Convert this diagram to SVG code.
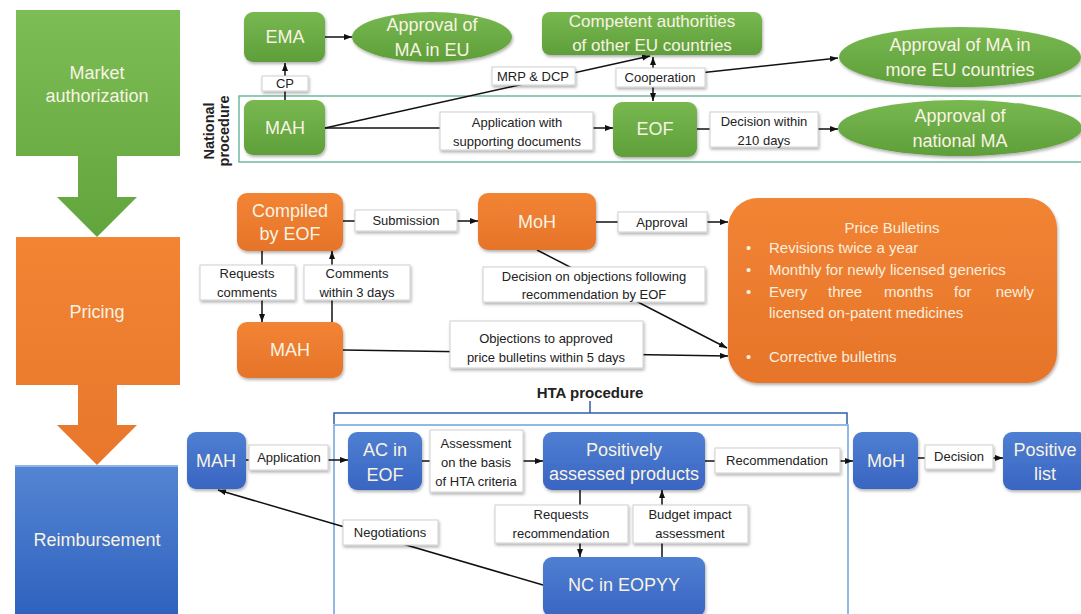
<svg xmlns="http://www.w3.org/2000/svg" width="1081" height="614" viewBox="0 0 1081 614">
<defs>
<linearGradient id="gG" x1="0" y1="0" x2="0" y2="1"><stop offset="0" stop-color="#7dbd55"/><stop offset="1" stop-color="#62a53c"/></linearGradient>
<linearGradient id="gO" x1="0" y1="0" x2="0" y2="1"><stop offset="0" stop-color="#f28434"/><stop offset="1" stop-color="#e8772b"/></linearGradient>
<linearGradient id="gB" x1="0" y1="0" x2="0" y2="1"><stop offset="0" stop-color="#5485d3"/><stop offset="1" stop-color="#2f62bf"/></linearGradient>
<linearGradient id="nG" x1="0" y1="0" x2="0" y2="1"><stop offset="0" stop-color="#78b850"/><stop offset="1" stop-color="#5f9f3a"/></linearGradient>
<linearGradient id="nO" x1="0" y1="0" x2="0" y2="1"><stop offset="0" stop-color="#f28434"/><stop offset="1" stop-color="#e6742a"/></linearGradient>
<linearGradient id="nB" x1="0" y1="0" x2="0" y2="1"><stop offset="0" stop-color="#4f7fd2"/><stop offset="1" stop-color="#3965c2"/></linearGradient>
<filter id="sh" x="-10%" y="-10%" width="130%" height="140%"><feDropShadow dx="1" dy="2" stdDeviation="1.5" flood-color="#000" flood-opacity="0.3"/></filter>
<marker id="ar" markerUnits="userSpaceOnUse" markerWidth="8" markerHeight="6" refX="8" refY="3" orient="auto-start-reverse"><path d="M0,0 L8,3 L0,6 z" fill="#111"/></marker>
<style>
.t{font-family:"Liberation Sans",Arial,sans-serif;fill:#f8f3e3;text-anchor:middle}
.big{font-size:18px}
.lab{font-family:"Liberation Sans",Arial,sans-serif;font-size:13px;fill:#222;text-anchor:middle}
.lb{fill:#fff;stroke:#cfcfcf;stroke-width:1;filter:url(#sh)}
.ln{stroke:#111;stroke-width:1.5;fill:none}
.a{marker-end:url(#ar)}
.ng{fill:url(#nG);filter:url(#sh)}
.no{fill:url(#nO);filter:url(#sh)}
.nb{fill:url(#nB);filter:url(#sh)}
.pb{font-family:"Liberation Sans",Arial,sans-serif;font-size:15px;fill:#f8eedd}
.vt{font-family:"Liberation Sans",Arial,sans-serif;font-size:14.5px;font-weight:bold;fill:#222;text-anchor:middle}
</style>
</defs>
<rect width="1081" height="614" fill="#fff"/>

<g id="stage-market">
<path d="M16,10 H180 V156 H117 V197 H137 L97,237 L57,197 H78 V156 H16 Z" fill="url(#gG)"/>
<text class="t big" x="97" y="79">Market</text>
<text class="t big" x="97" y="102">authorization</text>
</g>
<g id="stage-pricing">
<path d="M16,237 H180 V385 H117 V425 H137 L97,465 L57,425 H78 V385 H16 Z" fill="url(#gO)"/>
<text class="t big" x="97" y="318">Pricing</text>
</g>
<g id="stage-reimbursement">
<rect x="15" y="465" width="163" height="149" fill="url(#gB)"/>
<line x1="15" y1="466" x2="178" y2="466" stroke="#8fb0e8" stroke-width="2"/>
<text class="t big" x="97" y="546">Reimbursement</text>
</g>

<g id="national-procedure">
<rect x="239" y="96" width="850" height="66" fill="none" stroke="#6fb8a0" stroke-width="1.5"/>
<text class="vt" transform="translate(214,131) rotate(-90)">National</text>
<text class="vt" transform="translate(229,131) rotate(-90)">procedure</text>
</g>

<g id="hta-procedure">
<path d="M334,614 V425 H848 V614" fill="none" stroke="#6fa3d8" stroke-width="1.5"/>
<path d="M334,424 V413 H847 V424 M590,413 V401" fill="none" stroke="#2f5fa8" stroke-width="1.5"/>
<text x="590" y="398" font-family="Liberation Sans,Arial,sans-serif" font-size="15" font-weight="bold" fill="#222" text-anchor="middle">HTA procedure</text>
</g>

<g id="connectors">
<line class="ln a" x1="325" y1="37" x2="352" y2="37"/>
<line class="ln a" x1="285" y1="100" x2="285" y2="63"/>
<line class="ln a" x1="325" y1="128" x2="650" y2="56"/>
<line class="ln a" x1="653" y1="57" x2="653" y2="101" style="marker-start:url(#ar)"/>
<line class="ln a" x1="653" y1="78" x2="838" y2="58"/>
<line class="ln a" x1="325" y1="128" x2="613" y2="128"/>
<line class="ln a" x1="697" y1="129" x2="838" y2="129"/>
<line class="ln a" x1="343" y1="221" x2="478" y2="221"/>
<line class="ln a" x1="596" y1="222" x2="728" y2="222"/>
<line class="ln a" x1="262" y1="251" x2="262" y2="322"/>
<line class="ln a" x1="332" y1="322" x2="332" y2="251"/>
<line class="ln a" x1="537" y1="250" x2="727" y2="348"/>
<line class="ln a" x1="343" y1="350" x2="728" y2="356"/>
<line class="ln a" x1="246" y1="460" x2="348" y2="460"/>
<line class="ln a" x1="422" y1="461" x2="543" y2="461"/>
<line class="ln a" x1="705" y1="461" x2="853" y2="461"/>
<line class="ln a" x1="918" y1="458" x2="1003" y2="458"/>
<line class="ln a" x1="580" y1="490" x2="580" y2="557"/>
<line class="ln a" x1="662" y1="557" x2="662" y2="490"/>
<line class="ln a" x1="543" y1="585" x2="218" y2="490"/>

<rect class="lb" x="262" y="76" width="46" height="15"/><text class="lab" x="285" y="88">CP</text>
<rect class="lb" x="492" y="67" width="83" height="18"/><text class="lab" x="533" y="81">MRP &amp; DCP</text>
<rect class="lb" x="616" y="68" width="89" height="19"/><text class="lab" x="660" y="82">Cooperation</text>
<rect class="lb" x="440" y="112" width="153" height="38"/><text class="lab" x="517" y="127">Application with</text><text class="lab" x="517" y="146">supporting documents</text>
<rect class="lb" x="710" y="112" width="108" height="35"/><text class="lab" x="764" y="126">Decision within</text><text class="lab" x="764" y="145">210 days</text>
<rect class="lb" x="355" y="210" width="102" height="21"/><text class="lab" x="406" y="225">Submission</text>
<rect class="lb" x="618" y="212" width="89" height="20"/><text class="lab" x="662" y="227">Approval</text>
<rect class="lb" x="200" y="265" width="95" height="35"/><text class="lab" x="247" y="278">Requests</text><text class="lab" x="247" y="297">comments</text>
<rect class="lb" x="304" y="265" width="106" height="35"/><text class="lab" x="357" y="278">Comments</text><text class="lab" x="357" y="297">within 3 days</text>
<rect class="lb" x="483" y="267" width="222" height="35"/><text class="lab" x="594" y="281">Decision on objections following</text><text class="lab" x="594" y="299">recommendation by EOF</text>
<rect class="lb" x="450" y="321" width="193" height="47"/><text class="lab" x="546" y="343">Objections to approved</text><text class="lab" x="546" y="362">price bulletins within 5 days</text>
<rect class="lb" x="249" y="445" width="79" height="25"/><text class="lab" x="289" y="462">Application</text>
<rect class="lb" x="430" y="430" width="93" height="62"/><text class="lab" x="476" y="448">Assessment</text><text class="lab" x="476" y="467">on the basis</text><text class="lab" x="476" y="486">of HTA criteria</text>
<rect class="lb" x="715" y="448" width="125" height="25"/><text class="lab" x="777" y="465">Recommendation</text>
<rect class="lb" x="925" y="445" width="68" height="24"/><text class="lab" x="959" y="461">Decision</text>
<rect class="lb" x="495" y="505" width="133" height="38"/><text class="lab" x="561" y="519">Requests</text><text class="lab" x="561" y="538">recommendation</text>
<rect class="lb" x="633" y="505" width="115" height="38"/><text class="lab" x="690" y="519">Budget impact</text><text class="lab" x="690" y="538">assessment</text>
<rect class="lb" x="343" y="520" width="95" height="25"/><text class="lab" x="390" y="537">Negotiations</text>
</g>

<g id="ema"><rect class="ng" x="244" y="12" width="81" height="50" rx="9"/><text class="t big" x="285" y="43">EMA</text></g>
<g id="approval-eu"><ellipse class="ng" cx="432" cy="37" rx="80" ry="25"/><text class="t big" x="432" y="31">Approval of</text><text class="t big" x="432" y="56">MA in EU</text></g>
<g id="competent"><rect class="ng" x="542" y="12" width="220" height="43" rx="8"/><text class="t" font-size="17" x="652" y="27">Competent authorities</text><text class="t" font-size="17" x="652" y="51">of other EU countries</text></g>
<g id="approval-more"><ellipse class="ng" cx="960" cy="57" rx="121" ry="30"/><text class="t big" x="960" y="51">Approval of MA in</text><text class="t big" x="960" y="76">more EU countries</text></g>
<g id="mah-ma"><rect class="ng" x="244" y="100" width="81" height="55" rx="9"/><text class="t big" x="285" y="134">MAH</text></g>
<g id="eof"><rect class="ng" x="613" y="102" width="84" height="55" rx="9"/><text class="t big" x="655" y="135">EOF</text></g>
<g id="approval-national"><ellipse class="ng" cx="960" cy="128" rx="122" ry="28"/><text class="t big" x="960" y="122">Approval of</text><text class="t big" x="960" y="147">national MA</text></g>

<g id="compiled"><rect class="no" x="237" y="193" width="106" height="58" rx="10"/><text class="t big" x="290" y="217">Compiled</text><text class="t big" x="290" y="240">by EOF</text></g>
<g id="moh-pricing"><rect class="no" x="478" y="193" width="118" height="57" rx="10"/><text class="t big" x="537" y="228">MoH</text></g>
<g id="mah-pricing"><rect class="no" x="237" y="322" width="106" height="56" rx="10"/><text class="t big" x="290" y="356">MAH</text></g>
<g id="price-bulletins"><rect class="no" x="728" y="198" width="329" height="185" rx="30"/>
<text class="pb" x="892" y="233" text-anchor="middle">Price Bulletins</text>
<text class="pb" x="746" y="253">•</text><text class="pb" x="769" y="253">Revisions twice a year</text>
<text class="pb" x="746" y="275">•</text><text class="pb" x="769" y="275">Monthly for newly licensed generics</text>
<text class="pb" x="746" y="297">•</text><text class="pb" y="297"><tspan x="769">Every</tspan><tspan x="828">three</tspan><tspan x="884">months</tspan><tspan x="954">for</tspan></text><text class="pb" x="1034" y="297" text-anchor="end">newly</text>
<text class="pb" x="769" y="318">licensed on-patent medicines</text>
<text class="pb" x="746" y="362">•</text><text class="pb" x="769" y="362">Corrective bulletins</text>
</g>

<g id="mah-reimb"><rect class="nb" x="187" y="432" width="59" height="57" rx="9"/><text class="t big" x="216" y="467">MAH</text></g>
<g id="ac-eof"><rect class="nb" x="348" y="432" width="74" height="58" rx="9"/><text class="t big" x="385" y="456">AC in</text><text class="t big" x="385" y="481">EOF</text></g>
<g id="positively"><rect class="nb" x="543" y="432" width="162" height="58" rx="9"/><text class="t big" x="624" y="456">Positively</text><text class="t big" x="624" y="480">assessed products</text></g>
<g id="moh-reimb"><rect class="nb" x="853" y="432" width="65" height="57" rx="9"/><text class="t big" x="886" y="467">MoH</text></g>
<g id="positive-list"><rect class="nb" x="1003" y="432" width="85" height="58" rx="9"/><text class="t big" x="1045" y="456">Positive</text><text class="t big" x="1045" y="480">list</text></g>
<g id="nc-eopyy"><rect class="nb" x="543" y="557" width="162" height="60" rx="9"/><text class="t big" x="624" y="591">NC in EOPYY</text></g>
</svg>
